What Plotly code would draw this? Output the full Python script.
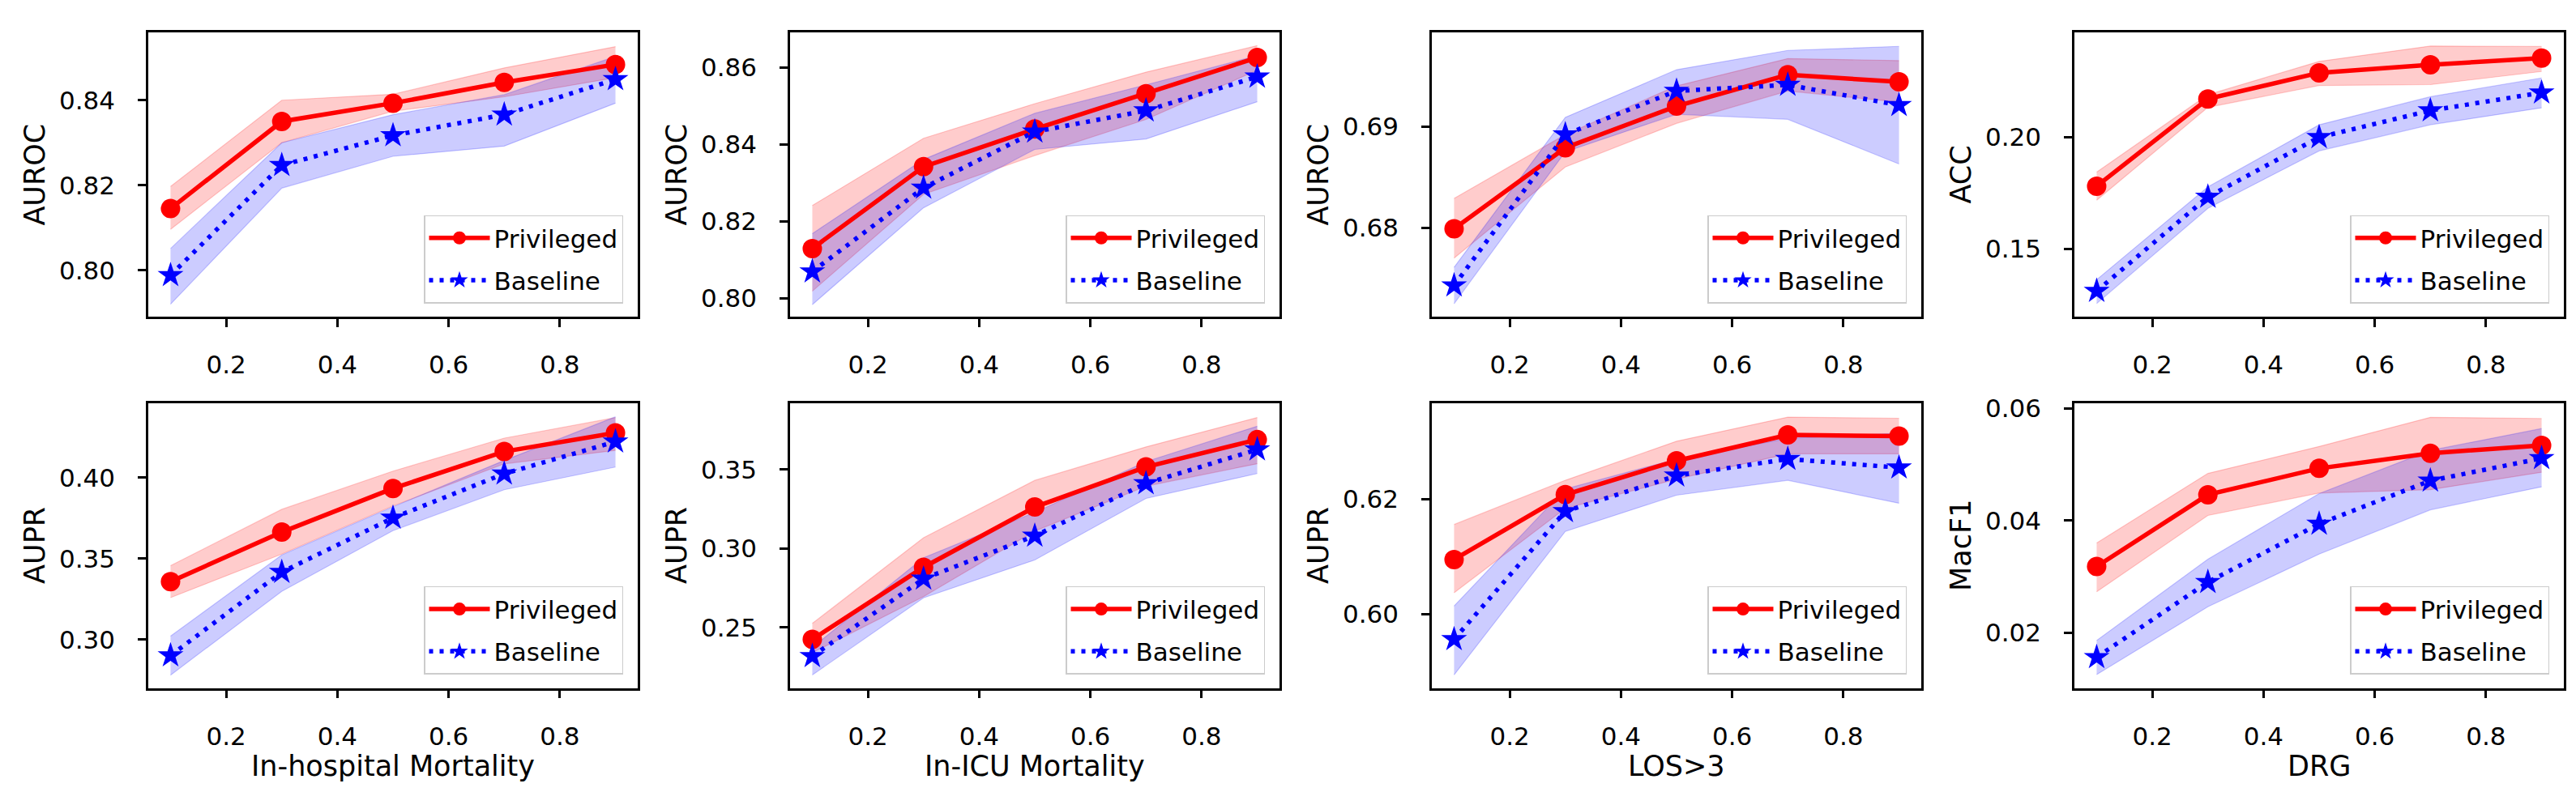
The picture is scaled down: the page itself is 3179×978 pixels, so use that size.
import plotly.graph_objects as go
from plotly.subplots import make_subplots

# label fraction on the x axis
frac = [0.1, 0.3, 0.5, 0.7, 0.9]
tasks = ["In-hospital Mortality", "In-ICU Mortality", "LOS>3", "DRG"]
top_metrics = ["AUROC", "AUROC", "AUROC", "ACC"]
bottom_metrics = ["AUPR", "AUPR", "AUPR", "MacF1"]

# In-hospital mortality, AUROC
ihm_auroc_priv = [0.8145, 0.8350, 0.8393, 0.8442, 0.8484]
ihm_auroc_priv_lo = [0.8096, 0.8300, 0.8374, 0.8408, 0.8453]
ihm_auroc_priv_hi = [0.8197, 0.8400, 0.8414, 0.8476, 0.8526]
ihm_auroc_base = [0.7988, 0.8247, 0.8317, 0.8366, 0.8449]
ihm_auroc_base_lo = [0.7920, 0.8193, 0.8268, 0.8292, 0.8393]
ihm_auroc_base_hi = [0.8051, 0.8300, 0.8366, 0.8413, 0.8503]

# In-ICU mortality, AUROC
icu_auroc_priv = [0.8129, 0.8342, 0.8440, 0.8532, 0.8626]
icu_auroc_priv_lo = [0.8018, 0.8270, 0.8371, 0.8465, 0.8593]
icu_auroc_priv_hi = [0.8241, 0.8416, 0.8506, 0.8588, 0.8657]
icu_auroc_base = [0.8069, 0.8287, 0.8433, 0.8488, 0.8576]
icu_auroc_base_lo = [0.7983, 0.8235, 0.8387, 0.8414, 0.8511]
icu_auroc_base_hi = [0.8168, 0.8361, 0.8481, 0.8555, 0.8631]

# LOS>3, AUROC
los_auroc_priv = [0.6799, 0.6879, 0.6920, 0.6951, 0.6944]
los_auroc_priv_lo = [0.6770, 0.6860, 0.6903, 0.6935, 0.6924]
los_auroc_priv_hi = [0.6829, 0.6892, 0.6940, 0.6967, 0.6965]
los_auroc_base = [0.6743, 0.6892, 0.6935, 0.6941, 0.6921]
los_auroc_base_lo = [0.6725, 0.6875, 0.6912, 0.6907, 0.6863]
los_auroc_base_hi = [0.6761, 0.6909, 0.6956, 0.6975, 0.6979]

# DRG, ACC
drg_acc_priv = [0.1781, 0.2172, 0.2289, 0.2325, 0.2355]
drg_acc_priv_lo = [0.1718, 0.2134, 0.2232, 0.2236, 0.2295]
drg_acc_priv_hi = [0.1844, 0.2191, 0.2340, 0.2409, 0.2407]
drg_acc_base = [0.1311, 0.1733, 0.2000, 0.2120, 0.2200]
drg_acc_base_lo = [0.1255, 0.1682, 0.1939, 0.2056, 0.2132]
drg_acc_base_hi = [0.1362, 0.1778, 0.2056, 0.2182, 0.2266]

# In-hospital mortality, AUPR
ihm_aupr_priv = [0.3358, 0.3664, 0.3934, 0.4162, 0.4278]
ihm_aupr_priv_lo = [0.3259, 0.3528, 0.3826, 0.4086, 0.4169]
ihm_aupr_priv_hi = [0.3457, 0.3805, 0.4041, 0.4245, 0.4372]
ihm_aupr_base = [0.2901, 0.3417, 0.3752, 0.4025, 0.4223]
ihm_aupr_base_lo = [0.2780, 0.3298, 0.3673, 0.3926, 0.4066]
ihm_aupr_base_hi = [0.3021, 0.3523, 0.3821, 0.4107, 0.4377]

# In-ICU mortality, AUPR
icu_aupr_priv = [0.2424, 0.2881, 0.3263, 0.3517, 0.3690]
icu_aupr_priv_lo = [0.2339, 0.2695, 0.3110, 0.3395, 0.3537]
icu_aupr_priv_hi = [0.2525, 0.3068, 0.3432, 0.3644, 0.3830]
icu_aupr_base = [0.2317, 0.2808, 0.3080, 0.3412, 0.3627]
icu_aupr_base_lo = [0.2198, 0.2687, 0.2927, 0.3317, 0.3475]
icu_aupr_base_hi = [0.2373, 0.2941, 0.3229, 0.3551, 0.3775]

# LOS>3, AUPR
los_aupr_priv = [0.6095, 0.6208, 0.6267, 0.6312, 0.6310]
los_aupr_priv_lo = [0.6037, 0.6184, 0.6235, 0.6279, 0.6279]
los_aupr_priv_hi = [0.6156, 0.6233, 0.6301, 0.6343, 0.6341]
los_aupr_base = [0.5956, 0.6179, 0.6241, 0.6270, 0.6255]
los_aupr_base_lo = [0.5894, 0.6144, 0.6207, 0.6233, 0.6193]
los_aupr_base_hi = [0.6014, 0.6218, 0.6270, 0.6306, 0.6315]

# DRG, macro F1
drg_macf1_priv = [0.0318, 0.0446, 0.0493, 0.0520, 0.0534]
drg_macf1_priv_lo = [0.0273, 0.0409, 0.0449, 0.0455, 0.0486]
drg_macf1_priv_hi = [0.0360, 0.0484, 0.0532, 0.0584, 0.0582]
drg_macf1_base = [0.0156, 0.0290, 0.0394, 0.0471, 0.0511]
drg_macf1_base_lo = [0.0125, 0.0246, 0.0340, 0.0419, 0.0460]
drg_macf1_base_hi = [0.0186, 0.0331, 0.0448, 0.0525, 0.0564]

panels = [
    (ihm_auroc_priv, ihm_auroc_priv_lo, ihm_auroc_priv_hi, ihm_auroc_base, ihm_auroc_base_lo, ihm_auroc_base_hi),
    (icu_auroc_priv, icu_auroc_priv_lo, icu_auroc_priv_hi, icu_auroc_base, icu_auroc_base_lo, icu_auroc_base_hi),
    (los_auroc_priv, los_auroc_priv_lo, los_auroc_priv_hi, los_auroc_base, los_auroc_base_lo, los_auroc_base_hi),
    (drg_acc_priv, drg_acc_priv_lo, drg_acc_priv_hi, drg_acc_base, drg_acc_base_lo, drg_acc_base_hi),
    (ihm_aupr_priv, ihm_aupr_priv_lo, ihm_aupr_priv_hi, ihm_aupr_base, ihm_aupr_base_lo, ihm_aupr_base_hi),
    (icu_aupr_priv, icu_aupr_priv_lo, icu_aupr_priv_hi, icu_aupr_base, icu_aupr_base_lo, icu_aupr_base_hi),
    (los_aupr_priv, los_aupr_priv_lo, los_aupr_priv_hi, los_aupr_base, los_aupr_base_lo, los_aupr_base_hi),
    (drg_macf1_priv, drg_macf1_priv_lo, drg_macf1_priv_hi, drg_macf1_base, drg_macf1_base_lo, drg_macf1_base_hi),
]

# axis ranges and tick steps per panel
y_ranges = [
    [0.789, 0.856], [0.7951, 0.8692], [0.6712, 0.6993], [0.1195, 0.2471],
    [0.270, 0.446], [0.2115, 0.392], [0.5871, 0.6367], [0.0101, 0.0609],
]
y_dticks = [0.02, 0.02, 0.01, 0.05, 0.05, 0.05, 0.02, 0.02]

W, H = 3179, 978
FONT = "DejaVu Sans"
box_left = [175, 967, 1759, 2552]
box_w = 604
row_top = [20, 484]
box_h = 356

fig = make_subplots(rows=2, cols=4)

for i, (priv, priv_lo, priv_hi, base, base_lo, base_hi) in enumerate(panels):
    row, col = i // 4 + 1, i % 4 + 1
    lg = "legend" if i == 0 else f"legend{i + 1}"
    for lo, hi, c in [(priv_lo, priv_hi, "255,0,0"), (base_lo, base_hi, "0,0,255")]:
        fig.add_trace(go.Scatter(x=frac, y=lo, mode="lines", showlegend=False, hoverinfo="skip",
                                 line=dict(color=f"rgba({c},0.2)", width=1.2)), row=row, col=col)
        fig.add_trace(go.Scatter(x=frac, y=hi, mode="lines", showlegend=False, hoverinfo="skip",
                                 fill="tonexty", fillcolor=f"rgba({c},0.2)",
                                 line=dict(color=f"rgba({c},0.2)", width=1.2)), row=row, col=col)
    fig.add_trace(go.Scatter(x=frac, y=priv, mode="lines+markers", name="Privileged",
                             legend=lg, legendgroup=f"p{i}a",
                             line=dict(color="#ff0000", width=5.5),
                             marker=dict(symbol="circle", size=24, color="#ff0000")), row=row, col=col)
    fig.add_trace(go.Scatter(x=frac, y=base, mode="lines+markers", name="Baseline",
                             legend=lg, legendgroup=f"p{i}b",
                             line=dict(color="#0000ff", width=5.5, dash="5px,8px"),
                             marker=dict(symbol="star", size=24, color="#0000ff", line=dict(width=0))),
                  row=row, col=col)

layout = dict(
    width=W, height=H, autosize=False,
    margin=dict(l=0, r=0, t=0, b=0),
    paper_bgcolor="white", plot_bgcolor="white",
    font=dict(family=FONT, size=31, color="black"),
    showlegend=True,
)

annotations = []
for i in range(8):
    r, c = i // 4, i % 4
    x0 = box_left[c]
    y0 = row_top[r]
    suffix = "" if i == 0 else str(i + 1)
    layout["xaxis" + suffix] = dict(
        domain=[x0 / W, (x0 + box_w) / W], range=[0.06, 0.94],
        tickvals=[0.2, 0.4, 0.6, 0.8], tickformat=".1f",
        ticks="outside", ticklen=10, tickwidth=3, tickcolor="black",
        showline=True, mirror=True, linecolor="black", linewidth=2.5,
        showgrid=False, zeroline=False, ticklabelstandoff=20,
        tickfont=dict(family=FONT, size=31, color="black"),
    )
    layout["yaxis" + suffix] = dict(
        domain=[1 - (y0 + box_h) / H, 1 - y0 / H], range=y_ranges[i],
        dtick=y_dticks[i], tick0=0, tickformat=".2f",
        ticks="outside", ticklen=10, tickwidth=3, tickcolor="black",
        showline=True, mirror=True, linecolor="black", linewidth=2.5,
        showgrid=False, zeroline=False, ticklabelstandoff=22,
        tickfont=dict(family=FONT, size=31, color="black"),
    )
    layout["legend" + suffix] = dict(
        xref="paper", yref="paper",
        x=(x0 + box_w - 18) / W, y=1 - (y0 + box_h - 17) / H,
        xanchor="right", yanchor="bottom",
        bgcolor="rgba(255,255,255,0.8)", bordercolor="#cccccc", borderwidth=1.5,
        font=dict(family=FONT, size=31, color="black"),
        tracegroupgap=9, itemwidth=75,
    )
    metric = top_metrics[c] if r == 0 else bottom_metrics[c]
    annotations.append(dict(
        text=metric, xref="paper", yref="paper",
        x=(x0 - 140) / W, y=1 - (y0 + box_h / 2) / H,
        textangle=-90, showarrow=False, xanchor="center", yanchor="middle",
        font=dict(family=FONT, size=35, color="black"),
    ))
    if r == 1:
        annotations.append(dict(
            text=tasks[c], xref="paper", yref="paper",
            x=(x0 + box_w / 2) / W, y=1 - 937 / H,
            showarrow=False, xanchor="center", yanchor="middle",
            font=dict(family=FONT, size=35, color="black"),
        ))

layout["annotations"] = annotations
fig.update_layout(**layout)

fig.write_html("out.html", config={"displayModeBar": False})
